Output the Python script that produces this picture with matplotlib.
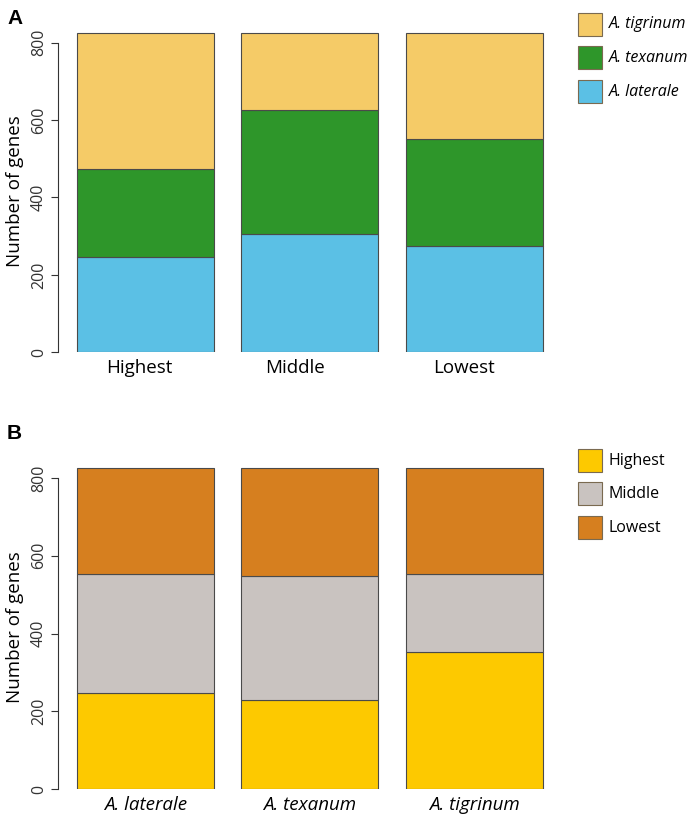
import numpy as np
import matplotlib.pyplot as plt
from matplotlib.patches import Rectangle
from matplotlib.transforms import ScaledTranslation

plt.rcParams['font.family'] = ['Open Sans', 'DejaVu Sans']

# gene counts per species in each expression rank (Highest, Middle, Lowest)
ranks = ['Highest', 'Middle', 'Lowest']
species = ['A. laterale', 'A. texanum', 'A. tigrinum']
laterale = [246, 306, 274]
texanum = [228, 320, 278]
tigrinum = [352, 200, 274]

species_colors = ['#5BC0E5', '#2E962A', '#F5CB67']
rank_colors = ['#FDC900', '#C9C3C0', '#D67F1F']

counts = np.array([laterale, texanum, tigrinum])  # rows species, cols rank

W, H = 700, 822
fig = plt.figure(figsize=(W / 100, H / 100), dpi=100)


def make_axes(y0_px, y800_px):
    per = (y0_px - y800_px) / 800.0
    top = 830
    ax = fig.add_axes([58 / W, (H - y0_px) / H, (570 - 58) / W, top * per / H])
    ax.set_xlim(0.061, 3.8)
    ax.set_ylim(0, top)
    for s in ['top', 'right', 'bottom']:
        ax.spines[s].set_visible(False)
    ax.spines['left'].set_bounds(0, 800)
    ax.spines['left'].set_linewidth(0.8)
    ax.spines['left'].set_color('#333333')
    ax.set_yticks([0, 200, 400, 600, 800])
    ax.tick_params(axis='y', length=5, width=0.8, color='#333333', pad=3,
                   labelsize=11.5, labelcolor='#333333')
    for lab in ax.get_yticklabels():
        lab.set_rotation(90)
        lab.set_va('center')
    ax.tick_params(axis='x', length=0, pad=5, labelsize=13.5)
    ax.set_ylabel('Number of genes', fontsize=13.5)
    ax.yaxis.set_label_coords(-34 / (570 - 58), 0.5 * 800 / top + 0.02)
    return ax


xpos = np.array([0.7, 1.9, 3.1])

# Panel A: species composition in each rank
axA = make_axes(352.3, 42.7)
bottom = np.zeros(3)
for i in range(3):
    axA.bar(xpos, counts[i], 1.0, bottom=bottom, color=species_colors[i],
            edgecolor='#4a4a4a', linewidth=0.8)
    bottom += counts[i]
axA.set_xticks(xpos)
axA.set_xticklabels(ranks)
# labels in panel A sit a little left of the bar centres
for lab, dx in zip(axA.get_xticklabels(), [-6, -15, -10]):
    lab.set_transform(lab.get_transform() + ScaledTranslation(dx / 100, 0, fig.dpi_scale_trans))

# Panel B: rank composition in each species
axB = make_axes(789, 478)
bottom = np.zeros(3)
for j in range(3):
    axB.bar(xpos, counts[:, j], 1.0, bottom=bottom, color=rank_colors[j],
            edgecolor='#4a4a4a', linewidth=0.8)
    bottom += counts[:, j]
axB.set_xticks(xpos)
axB.set_xticklabels(species, style='italic')

# panel letters
fig.text(7 / W, 1 - 19 / H, 'A', fontsize=15, fontweight='bold',
         family='Liberation Sans', va='center')
fig.text(7 / W, 1 - 433 / H, 'B', fontsize=15, fontweight='bold',
         family='Liberation Sans', va='center')


def legend(y_top_px, labels, colors, italic):
    for k, (lab, col) in enumerate(zip(labels, colors)):
        yt = y_top_px + k * 33.5
        fig.add_artist(Rectangle((578 / W, 1 - (yt + 23) / H), 24 / W, 23 / H,
                                 transform=fig.transFigure, facecolor=col,
                                 edgecolor='#7a6a50', linewidth=0.8))
        fig.text(609 / W, 1 - (yt + 11.5) / H, lab, fontsize=11.5, va='center',
                 style='italic' if italic else 'normal')


legend(13, species[::-1], species_colors[::-1], True)
legend(449, ranks, rank_colors, False)

fig.savefig('out.png', dpi=100, facecolor='white')
